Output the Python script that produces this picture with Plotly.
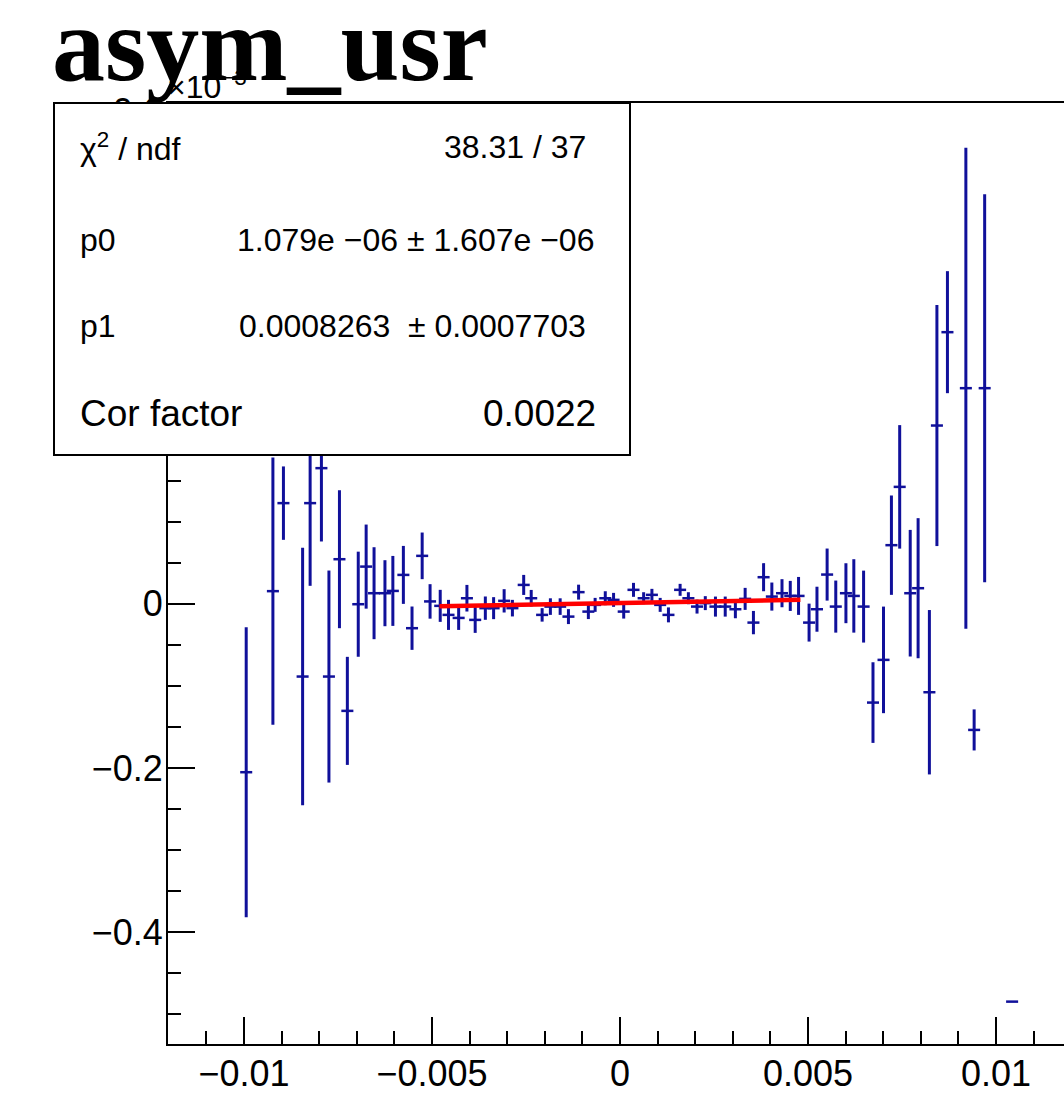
import plotly.graph_objects as go

# ---------------- data (y values in units of 10^-3, as on the axis) ----------------
x_vals = [
    -0.00994, -0.00923, -0.00895, -0.00844, -0.00824, -0.00794, -0.00774, -0.00746, -0.00725, -0.00696,
    -0.00675, -0.00654, -0.00625, -0.00604, -0.00576, -0.00553, -0.00526, -0.00505, -0.00478, -0.00456,
    -0.00429, -0.00407, -0.00385, -0.00358, -0.00336, -0.00308, -0.00286, -0.00256, -0.00236, -0.00207,
    -0.00185, -0.00159, -0.00137, -0.00110, -0.00084, -0.00066, -0.00039, -0.00017, 0.00010, 0.00036,
    0.00063, 0.00085, 0.00107, 0.00129, 0.00160, 0.00182, 0.00205, 0.00227, 0.00254, 0.00280,
    0.00307, 0.00333, 0.00355, 0.00382, 0.00404, 0.00431, 0.00453, 0.00475, 0.00503, 0.00524,
    0.00551, 0.00574, 0.00601, 0.00622, 0.00648, 0.00673, 0.00701, 0.00722, 0.00744, 0.00772,
    0.00793, 0.00823, 0.00843, 0.00871, 0.00920, 0.00942, 0.00970, 0.01043,
]
y_vals = [
    -0.205, 0.0155, 0.1227, -0.0885, 0.1227, 0.1653, -0.0885, 0.0544, -0.1303, -0.0004,
    0.0454, 0.013, 0.013, 0.0158, 0.0353, -0.0296, 0.0585, 0.003, -0.0024, -0.0134,
    -0.0171, 0.0069, -0.0195, -0.0052, -0.0052, 0.0037, -0.0052, 0.0231, 0.0069, -0.0134,
    -0.0033, -0.0033, -0.0155, 0.0143, -0.0094, -0.0012, 0.0069, 0.0049, -0.0094, 0.0171,
    0.0069, 0.011, -0.0012, -0.0134, 0.0171, 0.0069, -0.0033, 0.0009, -0.0033, -0.0033,
    -0.0065, 0.0061, -0.0228, 0.0325, 0.0089, 0.013, 0.0097, 0.0097, -0.0228, -0.0065,
    0.0357, -0.0033, 0.013, 0.0097, -0.0033, -0.1202, -0.0682, 0.0715, 0.1425, 0.013,
    0.0191, -0.1076, 0.2172, 0.3309, 0.2627, -0.1535, 0.2627, -0.4844,
]
y_errs = [
    0.1766, 0.1628, 0.0447, 0.1568, 0.1007, 0.0893, 0.1291, 0.084, 0.0658, 0.064,
    0.0512, 0.056, 0.0402, 0.0426, 0.0353, 0.0264, 0.0284, 0.021, 0.0195, 0.0183,
    0.0146, 0.0162, 0.0158, 0.0142, 0.0134, 0.0142, 0.0101, 0.0122, 0.0101, 0.0082,
    0.0101, 0.0101, 0.0091, 0.0091, 0.0091, 0.0085, 0.0085, 0.0085, 0.0085, 0.0085,
    0.0073, 0.0073, 0.0085, 0.0091, 0.0073, 0.0073, 0.0085, 0.0085, 0.0122, 0.0122,
    0.011, 0.0134, 0.0142, 0.0171, 0.0171, 0.0171, 0.0183, 0.0231, 0.0231, 0.0274,
    0.0317, 0.0317, 0.0365, 0.0447, 0.0438, 0.0491, 0.0649, 0.0605, 0.0752, 0.0771,
    0.0853, 0.1001, 0.1468, 0.0743, 0.2929, 0.025, 0.2363, 0.0,
]
x_err = 0.00016

# fit (pol1) parameters and fit range
fit_p0 = 1.079e-06
fit_p1 = 0.0008263
fit_range = [-0.0048, 0.0048]
y_unit = 1e-3  # axis shown as x10^-3

x_tickvals = [-0.01, -0.005, 0, 0.005, 0.01]
x_ticktext = ["\u22120.01", "\u22120.005", "0", "0.005", "0.01"]
y_tickvals = [-0.4, -0.2, 0, 0.2, 0.4, 0.6]
y_ticktext = ["\u22120.4", "\u22120.2", "0", "0.2", "0.4", "0.6"]

title_text = "asym_usr"
exponent_text = "\u00d710<sup>\u22123</sup>"
stats_labels = ["\u03c7<sup>2</sup> / ndf", "p0", "p1", "Cor factor"]
stats_values = ["38.31 / 37", "1.079e \u221206 \u00b1 1.607e \u221206",
                "0.0008263 \u00a0\u00b1 0.0007703", "0.0022"]

# ---------------- layout geometry (pixels) ----------------
W, H = 1064, 1105
L, R, T, B = 168, 1064, 103, 1044


def px_x(px):
    return (px - L) / (R - L)


def px_y(py):
    return (B - py) / (B - T)


blue = "#10109a"

fig = go.Figure()

fig.add_trace(go.Scatter(
    x=x_vals, y=y_vals, mode="markers",
    marker=dict(size=2, color=blue, opacity=0),
    error_y=dict(type="data", array=y_errs, visible=True, color=blue, thickness=3, width=0),
    error_x=dict(type="constant", value=x_err, visible=True, color=blue, thickness=2.5, width=0),
    showlegend=False, hoverinfo="skip",
))

fit_y = [(fit_p0 + fit_p1 * xv) / y_unit for xv in fit_range]
fig.add_trace(go.Scatter(
    x=fit_range, y=fit_y, mode="lines",
    line=dict(color="#ff0000", width=4.5),
    showlegend=False, hoverinfo="skip",
))

axis_font = dict(family="Liberation Sans, Arial, sans-serif", size=36, color="black")

fig.update_xaxes(
    range=[-0.01202, 0.01181],
    tickmode="array", tickvals=x_tickvals, ticktext=x_ticktext,
    ticks="inside", ticklen=27, tickwidth=2, tickcolor="black",
    minor=dict(tickmode="linear", tick0=0, dtick=0.001, ticks="inside",
               ticklen=13, tickwidth=2, tickcolor="black", showgrid=False),
    showline=True, linecolor="black", linewidth=2, mirror=True,
    showgrid=False, zeroline=False, tickfont=axis_font,
    ticklabelstandoff=-3,
)
fig.update_yaxes(
    range=[-0.536, 0.610],
    tickmode="array", tickvals=y_tickvals, ticktext=y_ticktext,
    ticks="inside", ticklen=27, tickwidth=2, tickcolor="black",
    minor=dict(tickmode="linear", tick0=0, dtick=0.05, ticks="inside",
               ticklen=13, tickwidth=2, tickcolor="black", showgrid=False),
    showline=True, linecolor="black", linewidth=2, mirror=False,
    showgrid=False, zeroline=False, tickfont=axis_font,
    ticklabelstandoff=-4,
)

shapes = [dict(
    type="rect", xref="paper", yref="paper",
    x0=px_x(54), x1=px_x(630), y0=px_y(455), y1=px_y(103),
    fillcolor="white", line=dict(color="black", width=2), layer="above",
)]

annotations = []
# exponent label of the y axis
annotations.append(dict(
    text=exponent_text, xref="paper", yref="paper",
    x=px_x(165), y=px_y(85), xanchor="left", yanchor="middle", showarrow=False,
    font=dict(family="Liberation Sans, Arial, sans-serif", size=32, color="black"),
))
# title
annotations.append(dict(
    text="<b>" + title_text + "</b>", xref="paper", yref="paper",
    x=px_x(50), y=px_y(44), xanchor="left", yanchor="middle", showarrow=False,
    font=dict(family="Liberation Serif, Times New Roman, serif", size=106, color="black"),
))

row_y = [147, 240, 326, 413]
val_right = [588, 596, 588, 598]
row_size = [32, 32, 32, 37]
val_size = [32, 32, 32, 37]
for lab, val, yy, xr, s1, s2 in zip(stats_labels, stats_values, row_y, val_right, row_size, val_size):
    annotations.append(dict(
        text=lab, xref="paper", yref="paper", x=px_x(78), y=px_y(yy),
        xanchor="left", yanchor="middle", showarrow=False,
        font=dict(family="Liberation Sans, Arial, sans-serif", size=s1, color="black"),
    ))
    annotations.append(dict(
        text=val, xref="paper", yref="paper", x=px_x(xr), y=px_y(yy),
        xanchor="right", yanchor="middle", showarrow=False,
        font=dict(family="Liberation Sans, Arial, sans-serif", size=s2, color="black"),
    ))

fig.update_layout(
    width=W, height=H,
    margin=dict(l=L, r=W - R, t=T, b=H - B, pad=0),
    paper_bgcolor="white", plot_bgcolor="white",
    shapes=shapes, annotations=annotations,
    showlegend=False,
)

fig.write_html("out.html", config={"displayModeBar": False},
               post_script="document.body.style.margin='0px';")
